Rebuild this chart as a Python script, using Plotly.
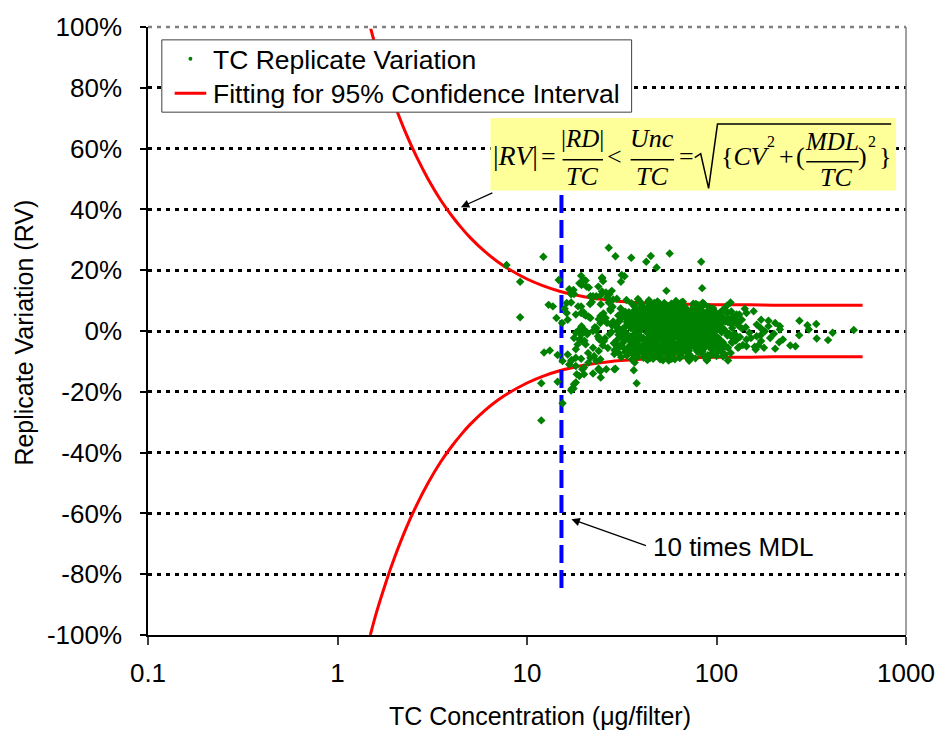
import plotly.graph_objects as go

# ---------------------------------------------------------------- data ----
# Replicate variation (fraction) versus TC loading (ug/filter)
tc_core = [
    22.8, 35.1, 61.4, 48.2, 90.3, 27.6, 73.5, 41.9, 110.2, 55.7,
    66.8, 38.4, 25.1, 84.7, 52.3, 130.5, 44.6, 31.2, 97.8, 58.9,
    79.2, 46.9, 33.8, 63.1, 120.4, 40.2, 70.6, 28.9, 51.0, 87.5,
    24.4, 57.3, 104.6, 36.7, 68.2, 43.5, 92.1, 30.4, 75.8, 49.6,
    62.5, 39.8, 81.3, 53.9, 116.7, 34.2, 45.8, 71.9, 26.3, 99.4,
    55.1, 86.2, 29.7, 64.9, 42.3, 137.8, 77.4, 37.5, 59.6, 47.8,
    94.7, 32.6, 50.4, 69.3, 23.7, 107.9, 40.9, 82.6, 60.7, 44.1,
    36.1, 73.0, 54.6, 125.2, 27.0, 89.1, 47.2, 65.8, 39.1, 102.3,
    58.2, 43.0, 76.1, 31.9, 113.3, 51.8, 85.4, 34.9, 67.5, 48.8,
    80.4, 25.8, 61.9, 45.1, 95.9, 37.9, 70.1, 53.2, 142.6, 29.1,
    41.4, 88.0, 57.8, 33.3, 72.3, 49.1, 105.5, 63.7, 38.8, 78.6,
    66.1, 30.8, 52.7, 91.4, 44.9, 118.9, 35.6, 74.7, 56.4, 83.9,
    46.3, 99.0, 27.3, 60.2, 40.6, 81.9, 50.7, 69.8, 32.1, 127.6,
    59.0, 37.2, 86.9, 48.4, 71.2, 24.9, 108.8, 43.8, 64.3, 93.5,
    34.5, 77.0, 54.2, 42.0, 122.0, 61.1, 29.4, 84.1, 47.0, 67.0,
    101.2, 52.0, 39.4, 75.0, 57.0, 31.4, 89.9, 45.5, 133.0, 62.9,
    28.3, 70.9, 50.1, 115.0, 36.4, 79.9, 58.5, 43.3, 96.6, 66.4,
    53.6, 87.2, 41.0, 64.6, 26.7, 103.0, 48.0, 73.8, 35.3, 60.0,
    82.0, 44.4, 68.7, 30.1, 56.0, 111.6, 38.1, 91.0, 51.4, 76.7,
    63.4, 33.0, 97.2, 46.6, 72.8, 25.5, 85.0, 54.9, 40.4, 119.7,
    49.3, 78.1, 36.9, 60.9, 94.2, 42.7, 66.5, 27.9, 108.1, 55.4,
    71.6, 39.6, 88.7, 52.9, 31.0, 81.1, 47.5, 124.0, 58.0, 34.0,
    44.8, 100.5, 62.2, 37.7, 75.4, 23.2, 54.0, 86.5, 41.6, 68.9,
    90.8, 50.9, 29.9, 65.2, 46.1, 113.9, 35.8, 79.5, 57.6, 40.0,
    61.6, 25.3, 83.3, 48.6, 69.6, 38.3, 98.3, 53.6, 32.9, 74.3,
    43.7, 87.6, 56.7, 106.4, 30.6, 66.0, 47.3, 78.8, 36.0, 129.8,
    73.3, 51.6, 39.0, 92.9, 59.3, 42.5, 84.6, 28.5, 63.9, 47.9,
    35.4, 67.8, 104.0, 45.3, 76.9, 55.8, 33.6, 95.0, 60.5, 41.2,
    80.9, 26.0, 50.6, 71.0, 37.0, 117.5, 44.0, 62.0, 90.0, 53.0,
    57.4, 98.7, 40.7, 69.0, 31.6, 85.8, 49.9, 77.7, 38.6, 110.9,
    46.7, 74.0, 58.8, 34.7, 121.3, 64.0, 43.1, 88.4, 52.5, 29.6,
    92.5, 39.3, 70.4, 54.4, 24.1, 82.8, 61.3, 45.6, 101.8, 36.6,
    65.6, 48.1, 79.0, 33.0, 57.1, 136.0, 42.9, 72.6, 27.5, 95.6,
    51.2, 86.0, 37.4, 60.3, 112.4, 44.7, 68.0, 30.3, 76.3, 55.0,
    41.8, 63.0, 93.8, 49.5, 35.0, 80.0, 58.3, 103.5, 46.0, 71.7,
    28.7, 75.6, 53.4, 87.9, 40.1, 66.9, 123.1, 47.1, 59.7, 38.0,
    83.0, 44.2, 69.9, 32.3, 96.0, 56.9, 39.8, 73.9, 50.0, 108.4,
    61.0, 35.7, 89.4, 45.9, 26.5, 78.4, 52.2, 64.8, 115.8, 42.2,
    74.9, 50.3, 38.2, 99.8, 67.2, 31.3, 84.3, 56.2, 43.6, 91.9,
    48.5, 68.4, 34.3, 58.6, 80.7, 40.8, 126.5, 63.6, 29.0, 86.8,
]
rv_core = [
    0.012, -0.034, 0.058, -0.071, 0.021, 0.067, -0.015, 0.043, -0.052, -0.003,
    0.084, 0.005, -0.048, -0.062, 0.031, 0.018, -0.089, 0.074, 0.047, -0.041,
    -0.027, 0.092, 0.026, -0.008, -0.036, -0.021, 0.039, -0.076, 0.063, 0.007,
    0.049, -0.058, 0.061, 0.085, -0.044, 0.014, -0.083, -0.012, 0.070, -0.025,
    -0.019, 0.038, 0.002, 0.079, -0.009, -0.054, -0.037, 0.052, 0.028, -0.068,
    0.045, 0.088, -0.031, -0.079, 0.017, -0.046, -0.056, 0.059, -0.004, 0.026,
    0.036, 0.011, -0.093, 0.004, -0.017, 0.069, 0.081, -0.033, -0.064, -0.049,
    -0.066, 0.064, -0.011, 0.041, 0.094, 0.010, 0.053, 0.033, -0.002, -0.030,
    -0.085, -0.006, 0.076, -0.040, 0.083, 0.022, -0.048, 0.042, -0.035, 0.097,
    0.055, -0.024, 0.029, -0.060, -0.013, -0.082, -0.071, 0.066, 0.012, 0.020,
    0.071, -0.039, 0.090, 0.056, 0.013, -0.019, -0.061, -0.050, -0.045, 0.087,
    -0.001, 0.032, -0.068, 0.060, 0.046, -0.072, 0.091, 0.025, 0.075, -0.042,
    -0.091, -0.022, -0.010, 0.016, 0.035, 0.073, -0.029, -0.087, 0.008, 0.054,
    0.068, -0.052, 0.024, 0.006, -0.075, 0.039, 0.044, -0.063, -0.028, -0.077,
    0.062, 0.048, -0.038, -0.084, -0.024, 0.099, -0.060, 0.003, 0.078, 0.057,
    0.015, -0.053, 0.027, -0.005, 0.037, -0.086, 0.066, 0.030, -0.020, -0.070,
    0.080, -0.043, 0.072, 0.029, -0.014, -0.058, 0.050, -0.095, -0.003, 0.019,
    -0.032, -0.088, 0.057, 0.082, -0.056, 0.035, -0.066, -0.018, 0.009, 0.040,
    0.069, 0.086, -0.023, 0.001, -0.097, -0.001, 0.040, 0.078, 0.011, -0.050,
    -0.046, -0.069, 0.051, -0.026, 0.033, -0.033, -0.016, -0.080, -0.070, 0.064,
    0.044, -0.008, 0.083, -0.047, 0.060, -0.040, 0.096, -0.003, -0.037, 0.018,
    -0.065, 0.024, 0.034, 0.050, -0.050, 0.047, -0.007, -0.011, -0.091, 0.036,
    0.064, -0.070, -0.043, -0.012, 0.090, 0.002, 0.029, -0.054, -0.078, -0.031,
    -0.005, -0.076, 0.014, 0.094, -0.062, 0.058, -0.094, 0.017, 0.060, 0.089,
    0.077, 0.058, -0.074, 0.041, -0.036, -0.034, 0.026, -0.057, 0.046, -0.086,
    0.004, 0.053, -0.020, -0.004, -0.073, 0.070, 0.087, -0.045, 0.023, -0.055,
    0.038, 0.066, -0.058, -0.048, -0.024, 0.052, 0.093, 0.031, -0.049, -0.039,
    -0.018, -0.028, 0.022, 0.074, 0.065, 0.010, -0.081, 0.045, 0.025, -0.088,
    -0.059, 0.043, -0.087, -0.052, 0.080, 0.032, -0.023, 0.084, -0.080, 0.092,
    0.034, -0.035, -0.064, 0.011, 0.003, -0.026, 0.037, 0.089, 0.049, 0.070,
    -0.057, 0.019, 0.061, -0.072, 0.047, -0.089, 0.076, -0.013, 0.000, -0.045,
    0.027, 0.098, -0.034, 0.085, -0.028, 0.061, 0.006, -0.044, -0.067, -0.079,
    0.092, 0.018, -0.066, 0.063, -0.083, 0.008, -0.092, 0.040, 0.072, 0.030,
    -0.050, 0.005, -0.002, -0.093, -0.051, 0.049, 0.062, 0.051, -0.010, 0.071,
    0.021, -0.075, -0.060, 0.093, 0.019, 0.034, -0.046, 0.052, -0.015, -0.098,
    -0.040, 0.079, 0.054, -0.016, -0.025, -0.043, 0.028, 0.063, 0.086, -0.074,
    0.082, -0.071, 0.045, -0.055, 0.075, -0.064, 0.013, -0.038, 0.034, -0.084,
    -0.011, 0.054, -0.030, -0.009, 0.027, 0.056, -0.096, 0.067, 0.039, 0.060,
    -0.040, 0.028, -0.085, -0.058, -0.063, -0.019, -0.068, 0.081, 0.095, 0.023,
    0.013, -0.012, 0.040, -0.035, 0.085, -0.047, -0.031, 0.047, -0.063, -0.021,
]

# densest part of the cloud
tc_centre = [
    33.7, 52.8, 77.8, 41.5, 64.1, 95.3, 47.6, 58.1, 86.3, 38.9,
    70.3, 44.3, 105.0, 55.9, 30.9, 81.6, 62.7, 49.8, 73.6, 36.3,
    59.9, 91.7, 42.4, 67.7, 51.3, 28.1, 79.7, 46.4, 100.0, 57.5,
    39.7, 74.6, 54.8, 88.9, 35.9, 65.3, 48.9, 109.6, 43.4, 69.4,
    83.6, 50.8, 62.6, 31.8, 76.5, 45.7, 97.5, 56.3, 40.5, 66.7,
    47.4, 71.3, 37.1, 93.1, 53.8, 78.2, 42.8, 61.8, 114.1, 34.6,
    64.4, 85.1, 49.0, 39.2, 72.0, 57.9, 30.0, 88.2, 52.1, 45.2,
    98.0, 55.3, 68.6, 43.9, 81.4, 36.8, 60.6, 47.7, 75.3, 106.8,
    41.1, 63.3, 52.4, 90.6, 33.4, 70.7, 58.7, 44.5, 84.8, 50.2,
    73.1, 38.7, 96.3, 61.2, 46.2, 79.3, 54.1, 67.4, 35.2, 102.7,
    56.6, 43.2, 82.3, 49.4, 69.1, 31.5, 92.3, 62.4, 40.3, 76.0,
    48.3, 66.3, 37.8, 58.4, 87.0, 53.3, 74.4, 45.0, 111.2, 60.1,
    80.2, 51.9, 42.6, 71.4, 34.8, 95.1, 57.2, 65.0, 39.5, 85.6,
    44.6, 99.5, 60.8, 36.2, 77.2, 50.5, 68.1, 32.7, 89.7, 54.7,
    67.9, 47.0, 83.8, 55.6, 41.7, 72.9, 29.3, 63.5, 49.7, 104.3,
    38.4, 76.8, 59.5, 46.8, 93.3, 53.7, 81.8, 43.0, 70.0, 35.5,
    61.7, 87.4, 40.9, 66.2, 51.7, 118.0, 45.4, 78.0, 57.7, 33.1,
    91.2, 49.2, 72.1, 37.3, 63.8, 55.2, 84.0, 42.1, 101.5, 59.2,
    46.5, 69.7, 54.3, 80.5, 39.9, 94.6, 48.7, 65.4, 31.7, 75.1,
    57.3, 43.9, 86.4, 52.6, 71.1, 36.5, 62.3, 97.9, 47.2, 78.9,
    45.3, 67.1, 38.0, 82.7, 55.5, 73.2, 49.5, 92.6, 60.4, 41.3,
    78.3, 52.6, 64.2, 35.8, 88.1, 57.0, 44.0, 70.8, 99.1, 47.6,
    62.8, 40.6, 75.9, 53.5, 85.5, 32.4, 68.3, 48.1, 58.6, 94.0,
    51.5, 80.1, 43.6, 66.4, 37.6, 90.5, 55.0, 72.4, 46.9, 63.9,
    86.6, 59.8, 39.4, 74.1, 50.6, 104.8, 61.5, 42.9, 79.1, 54.4,
    68.8, 46.3, 96.8, 57.8, 35.0, 83.1, 48.9, 65.7, 40.8, 76.4,
    53.1, 89.3, 62.1, 44.7, 71.5, 37.0, 81.0, 58.9, 50.8, 101.0,
    42.4, 65.0, 77.5, 54.6, 93.7, 47.0, 69.2, 39.0, 60.3, 84.4,
    73.7, 56.1, 45.6, 87.8, 63.2, 51.1, 34.1, 79.8, 66.0, 48.3,
    59.1, 97.4, 41.9, 70.5, 53.8, 82.1, 44.9, 62.6, 76.0, 38.5,
    49.0, 67.6, 85.2, 55.2, 39.7, 74.8, 58.0, 91.8, 46.1, 64.7,
    80.6, 43.4, 61.6, 51.9, 107.2, 36.9, 70.0, 56.8, 47.8, 88.6,
    65.3, 54.0, 41.2, 78.7, 59.4, 95.8, 45.0, 68.5, 52.3, 83.5,
    37.9, 72.7, 57.6, 48.6, 86.1, 62.9, 43.1, 75.6, 99.9, 53.0,
    69.5, 50.3, 81.7, 40.2, 63.0, 46.6, 90.1, 58.3, 35.6, 73.0,
]
rv_centre = [
    0.031, -0.016, 0.044, -0.053, 0.008, -0.027, 0.061, -0.039, 0.020, -0.005,
    -0.044, 0.066, 0.004, -0.021, 0.037, -0.062, 0.015, 0.049, -0.008, 0.027,
    0.002, -0.047, -0.030, 0.057, -0.066, 0.018, 0.034, 0.009, -0.019, 0.072,
    0.048, -0.036, 0.039, -0.002, -0.059, 0.025, -0.012, 0.006, 0.069, -0.051,
    0.019, 0.007, -0.056, 0.046, -0.029, -0.064, 0.041, -0.025, 0.013, 0.035,
    0.055, -0.010, -0.043, 0.024, 0.062, 0.003, -0.031, -0.067, -0.015, 0.016,
    -0.033, 0.058, -0.022, 0.071, -0.054, 0.044, 0.009, 0.027, 0.074, -0.057,
    0.050, 0.030, 0.021, -0.046, -0.041, -0.037, 0.068, 0.022, 0.043, 0.011,
    -0.023, -0.061, 0.079, -0.018, -0.007, 0.051, -0.049, 0.036, 0.062, -0.013,
    -0.003, 0.033, -0.052, 0.012, -0.070, 0.026, 0.047, -0.034, -0.045, -0.024,
    0.064, 0.020, -0.011, -0.027, 0.070, 0.058, -0.038, -0.002, -0.069, 0.045,
    0.038, -0.048, 0.008, -0.060, -0.020, 0.014, -0.028, 0.067, 0.031, -0.009,
    -0.014, 0.082, 0.056, -0.035, -0.026, 0.010, -0.073, 0.052, 0.029, 0.039,
    -0.041, 0.060, 0.025, 0.045, 0.017, -0.057, -0.039, -0.008, -0.030, 0.059,
    -0.016, 0.001, 0.028, -0.012, -0.054, 0.053, 0.023, 0.031, -0.065, -0.044,
    -0.021, -0.051, 0.073, 0.040, 0.002, -0.042, 0.065, 0.019, -0.025, 0.051,
    0.023, -0.017, 0.047, -0.049, 0.033, 0.027, -0.004, -0.058, -0.032, -0.029,
    0.061, 0.014, 0.005, -0.068, -0.001, 0.076, -0.021, 0.035, 0.018, -0.039,
    0.009, 0.042, -0.071, -0.024, 0.020, 0.049, -0.046, -0.013, 0.055, 0.028,
    -0.062, 0.063, 0.012, 0.032, -0.036, -0.017, 0.071, -0.050, 0.003, 0.040,
    -0.006, 0.022, 0.052, -0.038, 0.064, -0.015, -0.072, 0.037, 0.008, -0.058,
    0.045, -0.029, 0.071, 0.016, -0.048, 0.003, 0.028, -0.063, 0.056, -0.019,
    -0.040, 0.010, -0.025, 0.078, 0.033, -0.011, -0.055, 0.047, 0.019, -0.032,
    0.067, -0.070, 0.039, -0.046, 0.024, 0.050, -0.003, 0.013, -0.081, 0.060,
    -0.022, 0.044, -0.064, 0.006, 0.083, -0.041, -0.017, 0.030, 0.072, -0.052,
    0.015, 0.054, -0.036, -0.069, 0.040, 0.062, -0.027, 0.000, 0.046, -0.008,
    -0.060, 0.027, 0.036, -0.013, -0.042, 0.069, 0.018, -0.076, 0.004, 0.041,
    0.033, -0.050, 0.058, 0.023, -0.020, -0.034, 0.074, 0.012, -0.045, 0.065,
    0.020, -0.062, 0.081, 0.048, -0.016, 0.037, -0.024, -0.053, 0.010, -0.078,
    0.051, -0.004, -0.030, 0.026, -0.067, -0.009, 0.063, 0.042, -0.047, 0.030,
    -0.014, 0.068, 0.032, -0.055, 0.055, -0.026, 0.007, -0.037, 0.025, 0.049,
    -0.018, 0.014, -0.049, 0.059, 0.029, -0.065, -0.038, 0.076, -0.010, 0.012,
    0.003, -0.044, 0.066, 0.035, -0.073, -0.021, 0.043, -0.031, 0.021, -0.058,
    0.038, -0.007, -0.059, 0.070, 0.045, -0.012, -0.040, 0.057, 0.002, 0.016,
    -0.033, 0.041, -0.023, 0.008, 0.052, -0.074, -0.044, -0.015, 0.027, 0.061,
]

# low-loading samples (near and below 10x MDL)
tc_low = [
    12.2, 7.8, 9.2, 14.7, 13.0, 13.7, 9.2, 14.3, 12.3, 13.2,
    14.5, 11.9, 14.5, 15.4, 11.9, 19.3, 19.9, 20.4, 20.6, 21.2,
    23.8, 24.9, 16.7, 17.6, 17.1, 17.7, 18.9, 19.4, 21.6, 22.3,
    23.2, 24.5, 16.2, 17.1, 18.6, 16.2, 16.4, 18.1, 19.3, 20.0,
    19.4, 18.9, 18.1, 19.3, 20.8, 17.7, 19.6, 18.5, 18.1, 20.4,
    16.4, 17.1, 18.1, 19.3, 15.4, 16.7, 18.1, 19.6, 20.0, 18.3,
    18.9, 17.7, 18.1, 17.2, 17.6, 24.5, 23.8, 26.2, 28.9, 37.9,
    37.0, 15.8, 15.3, 18.9, 20.1, 17.2, 21.0, 20.0, 23.9, 17.1,
    24.9, 21.5, 22.0, 19.3, 19.9, 20.4, 21.1, 21.6, 23.9, 24.4,
    23.2, 20.0, 20.8, 22.3, 23.9, 24.9, 22.3, 23.9, 22.6, 24.4,
    23.2, 21.6, 21.1, 22.3, 24.4,
]
rv_low = [
    0.244, 0.217, 0.162, 0.168, 0.086, 0.081, 0.045, 0.043, -0.071, -0.064,
    -0.079, -0.172, -0.167, -0.238, -0.294, 0.182, 0.168, 0.166, 0.146, 0.143,
    0.146, 0.130, 0.137, 0.135, 0.121, 0.122, 0.157, 0.151, 0.114, 0.114,
    0.114, 0.088, 0.092, 0.094, 0.081, 0.059, 0.037, 0.054, 0.059, 0.054,
    0.016, 0.005, -0.006, -0.012, -0.006, -0.023, -0.033, -0.044, -0.060, -0.044,
    -0.077, -0.099, -0.088, -0.091, -0.099, -0.110, -0.115, -0.126, -0.120, -0.142,
    -0.148, -0.175, -0.169, -0.191, -0.189, -0.153, -0.126, -0.126, -0.126, -0.172,
    -0.104, 0.073, 0.026, -0.028, -0.032, -0.095, -0.072, -0.142, -0.124, -0.196,
    0.173, 0.089, 0.095, 0.081, 0.062, 0.051, 0.048, 0.043, 0.039, 0.026,
    0.010, 0.005, -0.011, 0.000, -0.023, -0.033, -0.055, -0.066, -0.082, -0.093,
    -0.098, -0.088, -0.104, -0.140, -0.132,
]

# samples lying well outside the band
tc_outer = [
    27.0, 29.3, 35.5, 45.0, 42.6, 56.6, 48.3, 24.9, 25.2, 31.6,
    32.7, 31.3, 54.4, 84.0, 28.0, 26.1, 83.0, 24.5, 26.5, 28.5,
    27.2, 29.8, 33.5, 38.5, 44.0, 29.3, 36.6, 77.4, 89.0,
]
rv_outer = [
    0.274, 0.246, 0.241, 0.247, 0.228, 0.255, 0.209, 0.176, 0.164, 0.184,
    0.180, 0.162, 0.132, 0.141, 0.132, 0.127, 0.228, 0.118, 0.110, 0.104,
    0.121, 0.106, 0.102, 0.105, 0.101, -0.124, -0.129, -0.090, -0.095,
]

# high-loading samples
tc_high = [
    118.6, 157, 172, 188, 204, 216, 274, 302, 336, 307,
    338, 388, 410, 530, 273, 245, 261, 224, 214, 204,
    178, 159, 161, 144, 132, 192, 201, 180, 171, 163,
    171, 163, 188, 216, 172, 152, 149, 144, 166, 136,
    144, 141, 132, 130, 121, 126, 121, 115, 115, 111,
    89, 100, 107,
]
rv_high = [
    0.094, 0.065, 0.037, 0.034, 0.026, 0.016, 0.034, 0.019, 0.023, 0.005,
    -0.025, -0.030, -0.006, 0.003, -0.014, -0.048, -0.050, -0.028, -0.037, -0.058,
    -0.055, -0.052, -0.061, -0.050, -0.052, -0.023, -0.009, -0.001, -0.014, -0.017,
    0.010, 0.021, 0.016, 0.005, -0.033, -0.023, -0.006, -0.028, -0.048, 0.037,
    0.059, 0.073, 0.054, 0.026, 0.010, -0.012, -0.039, -0.055, -0.097, -0.077,
    -0.097, -0.082, -0.071,
]

# 95% confidence envelope, upper branch (the lower branch is its mirror)
tc_fit = [1.49, 1.6, 1.8, 2.0, 2.3, 2.6, 3.0, 3.5, 4.0, 4.5, 5.0, 6.0, 7.0,
          8.0, 10, 12, 15, 20, 25, 30, 40, 50, 70, 100, 150, 200, 300, 450, 590]
rv_fit = [1.0, 0.929, 0.827, 0.745, 0.649, 0.576, 0.501, 0.431, 0.380, 0.340,
          0.308, 0.261, 0.228, 0.204, 0.171, 0.150, 0.130, 0.113, 0.104, 0.098,
          0.093, 0.090, 0.088, 0.086, 0.086, 0.085, 0.085, 0.085, 0.085]

mdl_x10 = 15.2                      # 10 times MDL, ug/filter
mdl_line_rv = [-0.845, 0.47]

x_ticks = [0.1, 1, 10, 100, 1000]
x_tick_labels = ["0.1", "1", "10", "100", "1000"]
y_ticks = [-1.0, -0.8, -0.6, -0.4, -0.2, 0.0, 0.2, 0.4, 0.6, 0.8, 1.0]
y_tick_labels = ["-100%", "-80%", "-60%", "-40%", "-20%", "0%",
                 "20%", "40%", "60%", "80%", "100%"]

series_names = ["TC Replicate Variation", "Fitting for 95% Confidence Interval"]

# ------------------------------------------------------------- layout ----
W, H = 947, 738
PLOT_L, PLOT_R, PLOT_T, PLOT_B = 148, 916, 21, 635


def px(x):
    return (x - PLOT_L) / (PLOT_R - PLOT_L)


def py(y):
    return (PLOT_B - y) / (PLOT_B - PLOT_T)


SANS = "Liberation Sans, Arial, sans-serif"
SERIF = "Liberation Serif, Times New Roman, serif"
FS = 26
DOT = "4px,5px"
GREEN, RED, BLUE = "#008000", "#FF0000", "#0000FF"

fig = go.Figure()

fig.add_trace(go.Scatter(
    x=tc_fit + [None] + tc_fit,
    y=rv_fit + [None] + [-v for v in rv_fit],
    mode="lines", line=dict(color=RED, width=3, shape="spline", smoothing=0.6),
    name=series_names[1],
))

fig.add_trace(go.Scatter(
    x=[mdl_x10, mdl_x10], y=mdl_line_rv, mode="lines",
    line=dict(color=BLUE, width=4, dash="18px,7px"),
    name="10 times MDL", hoverinfo="skip",
))

fig.add_trace(go.Scatter(
    x=tc_core + tc_centre + tc_low + tc_outer + tc_high,
    y=rv_core + rv_centre + rv_low + rv_outer + rv_high,
    mode="markers",
    marker=dict(symbol="diamond", size=6.5, color=GREEN, line=dict(width=0)),
    name=series_names[0],
))


def pline(x0, y0, x1, y1, color, width, dash=None):
    ln = dict(color=color, width=width)
    if dash:
        ln["dash"] = dash
    return dict(type="line", xref="paper", yref="paper",
                x0=px(x0), y0=py(y0), x1=px(x1), y1=py(y1),
                line=ln, layer="above")


shapes = [
    # top boundary drawn as a grey dotted line, right boundary grey solid
    dict(type="line", xref="paper", yref="paper", x0=0, x1=1, y0=1, y1=1,
         line=dict(color="white", width=3.5), layer="above"),
    dict(type="line", xref="paper", yref="paper", x0=0, x1=1, y0=1, y1=1,
         line=dict(color="#808080", width=2.5, dash=DOT), layer="above"),
    dict(type="line", xref="paper", yref="paper", x0=1, x1=1, y0=0, y1=1,
         line=dict(color="#808080", width=1.5), layer="above"),
    # legend frame and keys
    dict(type="rect", xref="paper", yref="paper",
         x0=px(162), x1=px(638), y0=py(107), y1=py(34),
         fillcolor="white", line=dict(color="#404040", width=1), layer="above"),
    dict(type="circle", xref="paper", yref="paper",
         x0=px(189), x1=px(193), y0=py(55), y1=py(51),
         fillcolor=GREEN, line=dict(width=0), layer="above"),
    pline(175, 88, 207, 88, RED, 3),
    # equation box
    dict(type="rect", xref="paper", yref="paper",
         x0=px(495), x1=px(906), y0=py(186), y1=py(113),
         fillcolor="#FFFF99", line=dict(width=0), layer="above"),
]

# fraction bars in the equation
for x0, x1, yb in [(568, 609, 155), (637, 681, 155), (815, 868, 157)]:
    shapes.append(pline(x0, yb, x1, yb, "black", 1.5))

# radical sign
rad = [(702, 153), (708, 149), (716, 184), (725, 119), (901, 119)]
path = "M " + " L ".join(f"{px(a):.5f},{py(b):.5f}" for a, b in rad)
shapes.append(dict(type="path", xref="paper", yref="paper", path=path,
                   line=dict(color="black", width=1.5), layer="above"))

annotations = []


def text(t, x, y, size=FS, anchor="left", family=SANS, angle=0):
    annotations.append(dict(
        text=t, xref="paper", yref="paper", x=px(x), y=py(y),
        xanchor=anchor, yanchor="middle", showarrow=False, textangle=angle,
        font=dict(family=family, size=size, color="black")))


def eq(t, x, y, size=26, anchor="center"):
    text(t, x, y, size, anchor, SERIF)


# legend labels
text(series_names[0], 212, 54, 26.5)
text(series_names[1], 212, 89, 26.5)

eq("|<i>RV</i>|", 520, 151, 28)
eq("=", 554, 152)
eq("|<i>RD</i>|", 588, 134, 25)
eq("<i>TC</i>", 588, 172)
eq("&lt;", 621, 152)
eq("<i>Unc</i>", 659, 134)
eq("<i>TC</i>", 659, 172)
eq("=", 694, 152)
eq("{<i>CV</i>", 727, 152, 26, "left")
eq("2", 779, 137, 16)
eq("+", 795, 152)
eq("(", 809, 152)
eq("<i>MDL</i>", 841, 137, 25)
eq("<i>TC</i>", 845, 173)
eq(")", 872, 152)
eq("2", 882, 137, 16)
eq("}", 895, 152)

# arrows
annotations.append(dict(
    text="", xref="paper", yref="paper", x=px(465), y=py(203),
    ax=33, ay=-15, showarrow=True, arrowhead=2, arrowsize=1.4,
    arrowwidth=1.2, arrowcolor="black"))
annotations.append(dict(
    text="", xref="paper", yref="paper", x=px(577), y=py(518),
    ax=76, ay=27, showarrow=True, arrowhead=2, arrowsize=1.4,
    arrowwidth=1.2, arrowcolor="black"))
text("10 times MDL", 658, 546, 26)

# axis titles
text("TC Concentration (\u03bcg/filter)", 545, 717, 25, "center")
text("Replicate Variation (RV)", 22, 330, 25, "center", angle=-90)

fig.update_layout(
    width=W, height=H,
    margin=dict(l=PLOT_L, r=W - PLOT_R, t=PLOT_T, b=H - PLOT_B, pad=0),
    paper_bgcolor="white", plot_bgcolor="white",
    font=dict(family=SANS, size=FS, color="black"),
    showlegend=False,
    xaxis=dict(type="log", range=[-1, 3], tickvals=x_ticks, ticktext=x_tick_labels,
               ticks="outside", ticklen=8, tickwidth=1.5, tickcolor="#404040",
               showline=True, linecolor="black", linewidth=1.5,
               showgrid=False, zeroline=False, ticklabelstandoff=6,
               tickfont=dict(family=SANS, size=FS, color="black")),
    yaxis=dict(range=[-1, 1], tickvals=y_ticks, ticktext=y_tick_labels,
               ticks="outside", ticklen=6, tickwidth=1.5, tickcolor="black",
               showline=True, linecolor="black", linewidth=1.5,
               showgrid=True, gridcolor="black", gridwidth=2.5, griddash=DOT,
               zeroline=False, ticklabelstandoff=13,
               tickfont=dict(family=SANS, size=FS, color="black")),
    shapes=shapes, annotations=annotations,
)

fig.write_html("out.html")
